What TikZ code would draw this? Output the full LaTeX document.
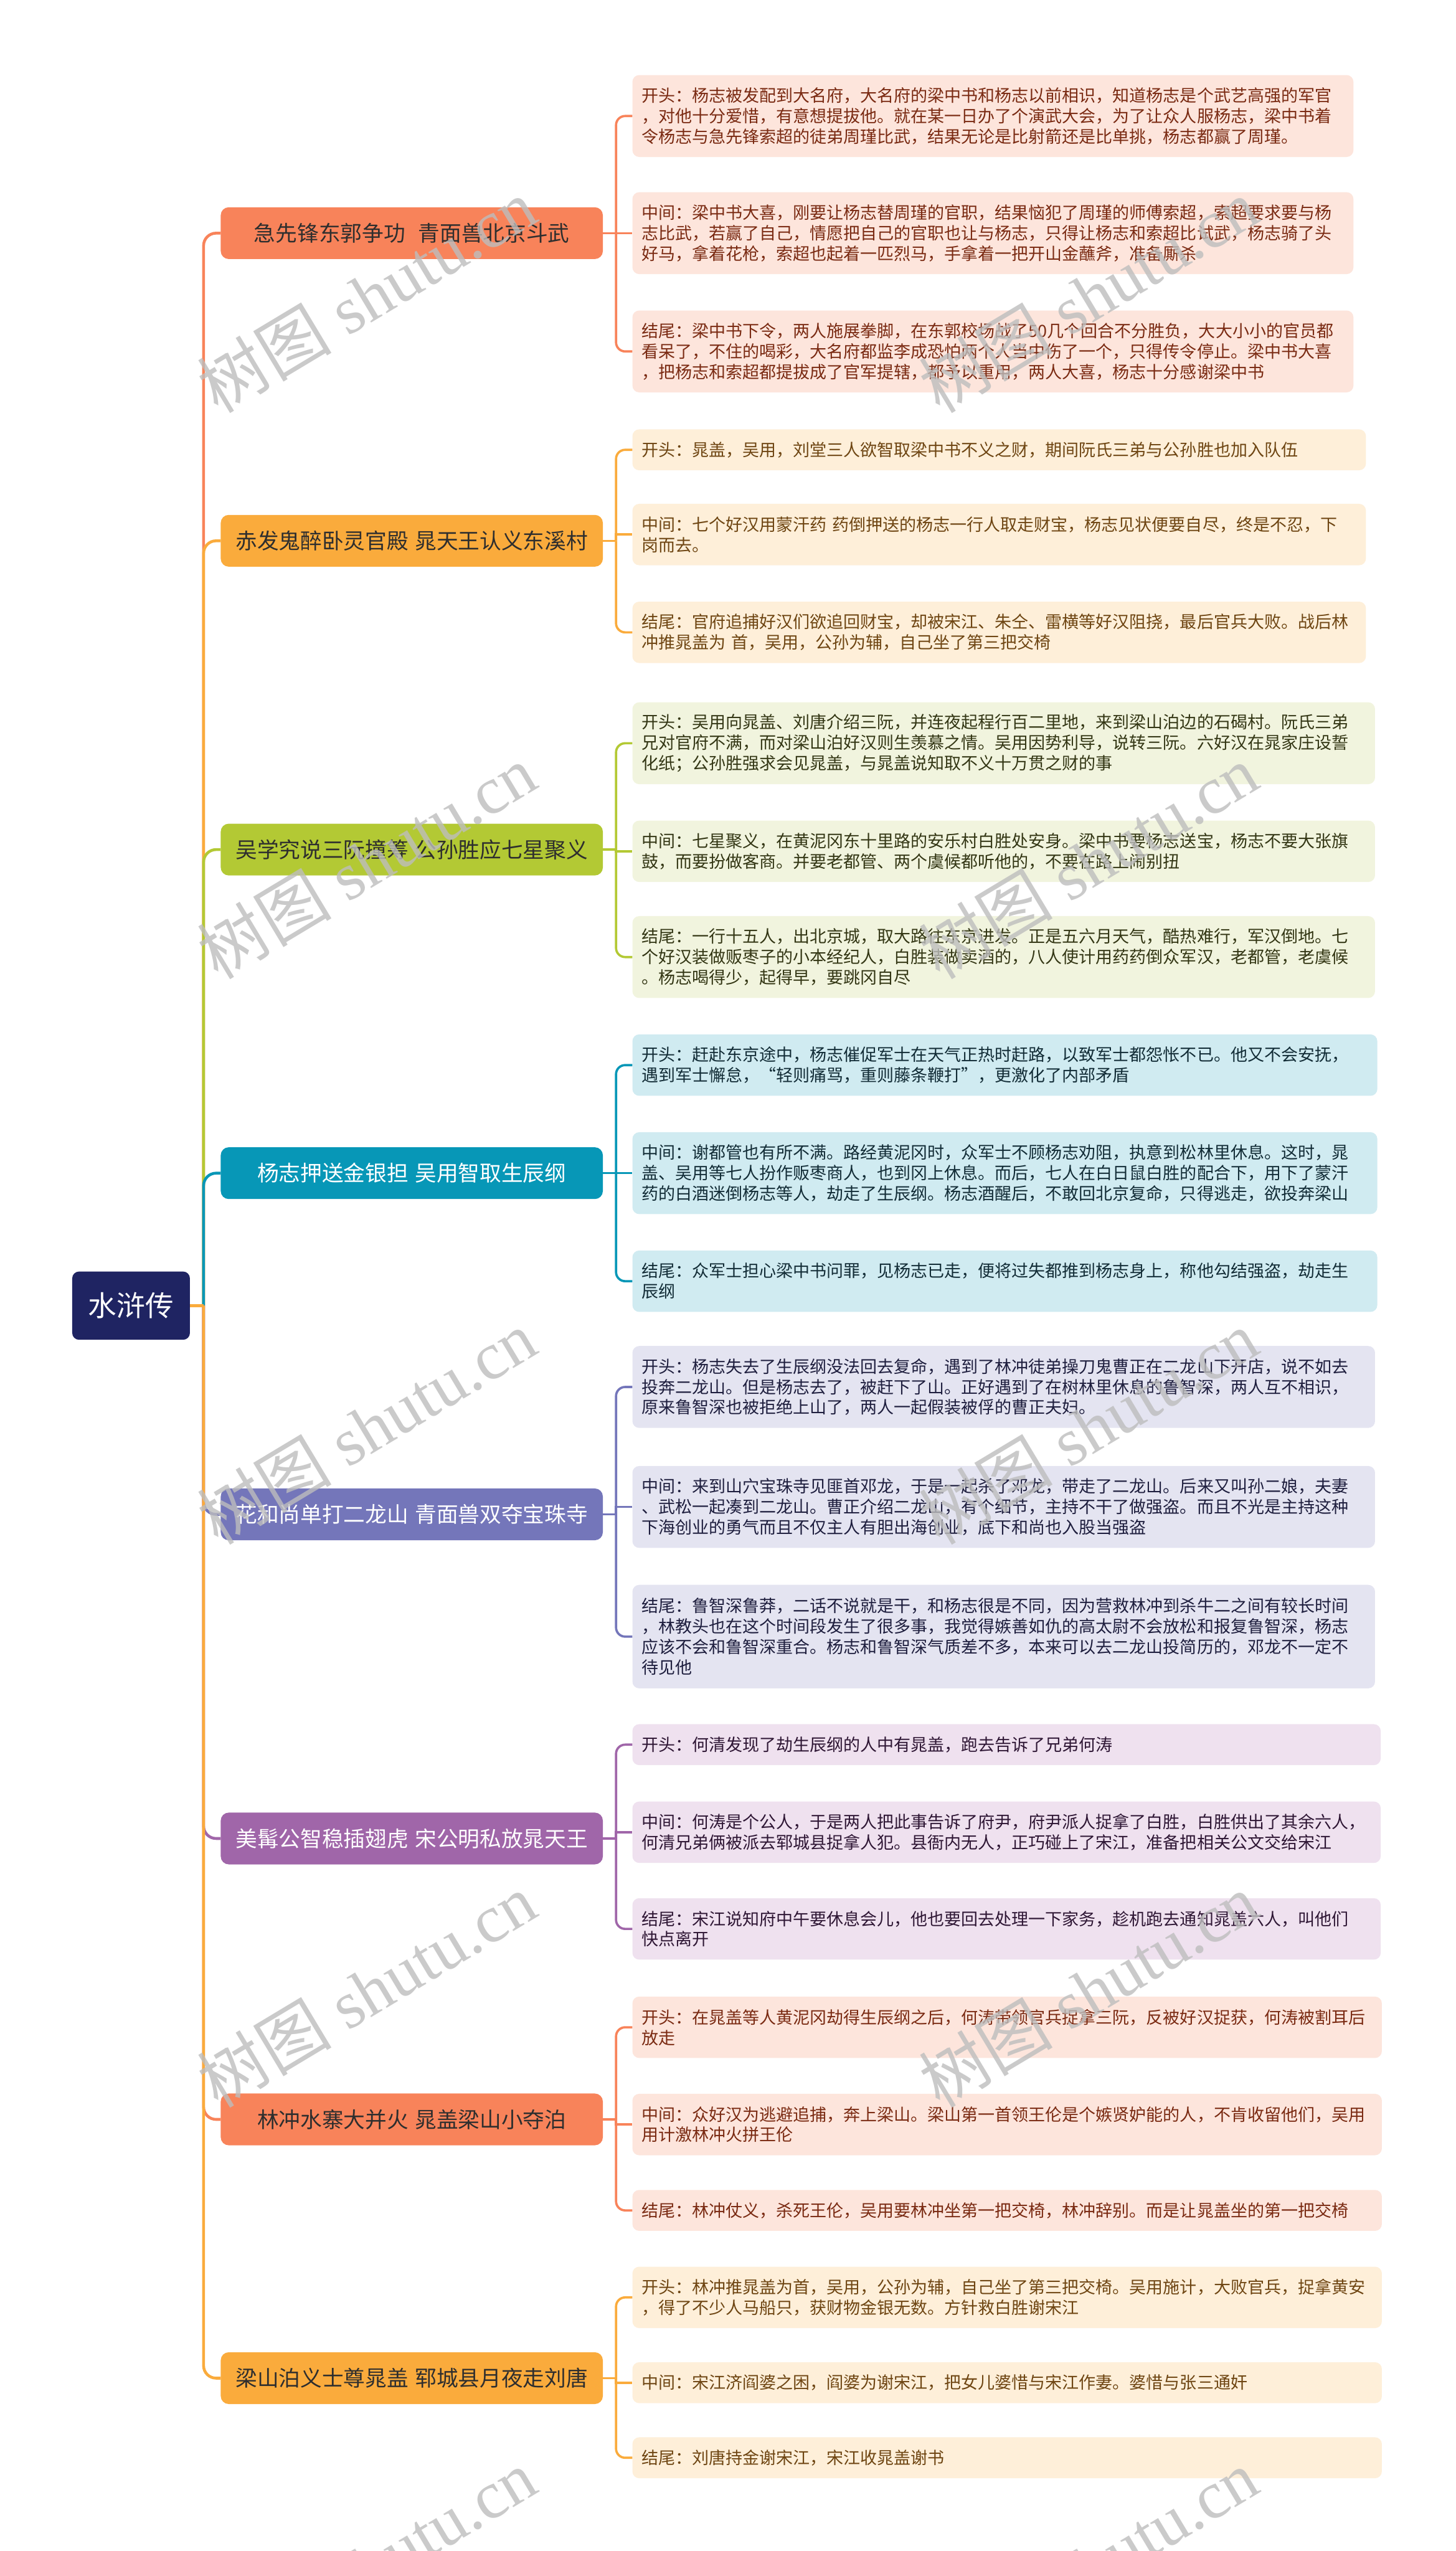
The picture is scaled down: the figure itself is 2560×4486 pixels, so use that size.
\documentclass[tikz,border=0pt]{standalone}
\usepackage{fontspec}
\setmainfont{Noto Sans CJK SC}
\newfontfamily\wmlatin{Liberation Serif}
\definecolor{cCoral}{HTML}{F8835A}
\definecolor{cCoralL}{HTML}{FDE5DC}
\definecolor{cCoralT}{HTML}{7A2A12}
\definecolor{cOrange}{HTML}{FAAB3C}
\definecolor{cOrangeL}{HTML}{FEEFD9}
\definecolor{cOrangeT}{HTML}{6E4512}
\definecolor{cGreen}{HTML}{B3C934}
\definecolor{cGreenL}{HTML}{F1F4DE}
\definecolor{cGreenT}{HTML}{333614}
\definecolor{cTeal}{HTML}{0797B7}
\definecolor{cTealL}{HTML}{D0EBF1}
\definecolor{cTealT}{HTML}{122C36}
\definecolor{cBlue}{HTML}{7476BA}
\definecolor{cBlueL}{HTML}{E4E4F1}
\definecolor{cBlueT}{HTML}{1E1E3E}
\definecolor{cPurple}{HTML}{A066A9}
\definecolor{cPurpleL}{HTML}{EFE1EF}
\definecolor{cPurpleT}{HTML}{2E1634}
\definecolor{cRoot}{HTML}{1F2462}
\definecolor{cDark}{HTML}{2E2E2E}
\definecolor{cWM}{HTML}{BDBDBD}
\begin{document}
\begin{tikzpicture}[x=1pt,y=-1pt,
  rootbox/.style={rectangle, rounded corners=12pt, fill=cRoot, text=white, minimum width=207pt, minimum height=120pt, inner sep=0pt, font=\fontsize{50}{60}\selectfont},
  branchbox/.style={rectangle, rounded corners=14pt, minimum width=672pt, minimum height=91pt, inner sep=0pt, anchor=west, font=\fontsize{38}{46}\selectfont},
  leafbox/.style={rectangle, rounded corners=12pt, anchor=west, inner xsep=16pt, inner ysep=0pt, align=left, font=\fontsize{29.6}{36}\selectfont},
  one/.style={minimum height=72pt}, two/.style={minimum height=108pt}, three/.style={minimum height=144pt}, four/.style={minimum height=182pt},
  lfA/.style={leafbox, fill=cCoralL, text=cCoralT, text width=1236pt},
  lfB/.style={leafbox, fill=cOrangeL, text=cOrangeT, text width=1258pt},
  lfC/.style={leafbox, fill=cGreenL, text=cGreenT, text width=1274pt},
  lfD/.style={leafbox, fill=cTealL, text=cTealT, text width=1278pt},
  lfE/.style={leafbox, fill=cBlueL, text=cBlueT, text width=1274pt},
  lfF/.style={leafbox, fill=cPurpleL, text=cPurpleT, text width=1284pt},
  lfG/.style={leafbox, fill=cCoralL, text=cCoralT, text width=1286pt},
  lfH/.style={leafbox, fill=cOrangeL, text=cOrangeT, text width=1286pt},
  trunk/.style={line width=5pt, rounded corners=22pt},
  twig/.style={line width=4pt},
  wm/.style={rotate=31, text=cWM, text opacity=0.8, font=\fontsize{118}{130}\selectfont}
]
\fill[white] (0,0) rectangle (2560,4486);
\useasboundingbox (0,0) rectangle (2560,4486);

% root
\node[rootbox] (root) at (230.5,2296) {水浒传};
\coordinate (rj) at (358,2296);

% branches
\node[branchbox, fill=cCoral, text=cDark] (b1) at (388,410) {急先锋东郭争功\hspace{0.6em}青面兽北京斗武};
\node[branchbox, fill=cOrange, text=cDark] (b2) at (388,951) {赤发鬼醉卧灵官殿\hspace{0.3em}晁天王认义东溪村};
\node[branchbox, fill=cGreen, text=cDark] (b3) at (388,1494) {吴学究说三阮撞筹\hspace{0.3em}公孙胜应七星聚义};
\node[branchbox, fill=cTeal, text=white] (b4) at (388,2063) {杨志押送金银担\hspace{0.3em}吴用智取生辰纲};
\node[branchbox, fill=cBlue, text=white] (b5) at (388,2663) {花和尚单打二龙山\hspace{0.3em}青面兽双夺宝珠寺};
\node[branchbox, fill=cPurple, text=white] (b6) at (388,3233) {美髯公智稳插翅虎\hspace{0.3em}宋公明私放晁天王};
\node[branchbox, fill=cCoral, text=cDark] (b7) at (388,3727) {林冲水寨大并火\hspace{0.3em}晁盖梁山小夺泊};
\node[branchbox, fill=cOrange, text=cDark] (b8) at (388,4182) {梁山泊义士尊晁盖\hspace{0.3em}郓城县月夜走刘唐};

% leaves branch 1
\node[lfA, three] (l1-a) at (1112,204) {开头：杨志被发配到大名府，大名府的梁中书和杨志以前相识，知道杨志是个武艺高强的军官\\，对他十分爱惜，有意想提拔他。就在某一日办了个演武大会，为了让众人服杨志，梁中书着\\令杨志与急先锋索超的徒弟周瑾比武，结果无论是比射箭还是比单挑，杨志都赢了周瑾。};
\node[lfA, three] (l1-b) at (1112,410) {中间：梁中书大喜，刚要让杨志替周瑾的官职，结果恼犯了周瑾的师傅索超，索超要求要与杨\\志比武，若赢了自己，情愿把自己的官职也让与杨志，只得让杨志和索超比试武，杨志骑了头\\好马，拿着花枪，索超也起着一匹烈马，手拿着一把开山金蘸斧，准备厮杀};
\node[lfA, three] (l1-c) at (1112,618) {结尾：梁中书下令，两人施展拳脚，在东郭校场战了50几个回合不分胜负，大大小小的官员都\\看呆了，不住的喝彩，大名府都监李成恐怕两个人当中伤了一个，只得传令停止。梁中书大喜\\，把杨志和索超都提拔成了官军提辖，都予以重用，两人大喜，杨志十分感谢梁中书};

% leaves branch 2
\node[lfB, one] (l2-a) at (1112,791) {开头：晁盖，吴用，刘堂三人欲智取梁中书不义之财，期间阮氏三弟与公孙胜也加入队伍};
\node[lfB, two] (l2-b) at (1112,940) {中间：七个好汉用蒙汗药 药倒押送的杨志一行人取走财宝，杨志见状便要自尽，终是不忍，下\\岗而去。};
\node[lfB, two] (l2-c) at (1112,1112) {结尾：官府追捕好汉们欲追回财宝，却被宋江、朱仝、雷横等好汉阻挠，最后官兵大败。战后林\\冲推晁盖为 首，吴用，公孙为辅，自己坐了第三把交椅};

% leaves branch 3
\node[lfC, three] (l3-a) at (1112,1307) {开头：吴用向晁盖、刘唐介绍三阮，并连夜起程行百二里地，来到梁山泊边的石碣村。阮氏三弟\\兄对官府不满，而对梁山泊好汉则生羡慕之情。吴用因势利导，说转三阮。六好汉在晁家庄设誓\\化纸；公孙胜强求会见晁盖，与晁盖说知取不义十万贯之财的事};
\node[lfC, two] (l3-b) at (1112,1497) {中间：七星聚义，在黄泥冈东十里路的安乐村白胜处安身。梁中书要杨志送宝，杨志不要大张旗\\鼓，而要扮做客商。并要老都管、两个虞候都听他的，不要在路上闹别扭};
\node[lfC, three] (l3-c) at (1112,1683) {结尾：一行十五人，出北京城，取大路往东京进发。正是五六月天气，酷热难行，军汉倒地。七\\个好汉装做贩枣子的小本经纪人，白胜装做卖酒的，八人使计用药药倒众军汉，老都管，老虞候\\。杨志喝得少，起得早，要跳冈自尽};

% leaves branch 4
\node[lfD, two] (l4-a) at (1112,1873) {开头：赶赴东京途中，杨志催促军士在天气正热时赶路，以致军士都怨怅不已。他又不会安抚，\\遇到军士懈怠，“轻则痛骂，重则藤条鞭打”，更激化了内部矛盾};
\node[lfD, three] (l4-b) at (1112,2063) {中间：谢都管也有所不满。路经黄泥冈时，众军士不顾杨志劝阻，执意到松林里休息。这时，晁\\盖、吴用等七人扮作贩枣商人，也到冈上休息。而后，七人在白日鼠白胜的配合下，用下了蒙汗\\药的白酒迷倒杨志等人，劫走了生辰纲。杨志酒醒后，不敢回北京复命，只得逃走，欲投奔梁山};
\node[lfD, two] (l4-c) at (1112,2253) {结尾：众军士担心梁中书问罪，见杨志已走，便将过失都推到杨志身上，称他勾结强盗，劫走生\\辰纲};

% leaves branch 5
\node[lfE, three] (l5-a) at (1112,2439) {开头：杨志失去了生辰纲没法回去复命，遇到了林冲徒弟操刀鬼曹正在二龙山下开店，说不如去\\投奔二龙山。但是杨志去了，被赶下了山。正好遇到了在树林里休息的鲁智深，两人互不相识，\\原来鲁智深也被拒绝上山了，两人一起假装被俘的曹正夫妇。};
\node[lfE, three] (l5-b) at (1112,2650) {中间：来到山穴宝珠寺见匪首邓龙，于是一起杀了邓龙，带走了二龙山。后来又叫孙二娘，夫妻\\、武松一起凑到二龙山。曹正介绍二龙山，有个细节，主持不干了做强盗。而且不光是主持这种\\下海创业的勇气而且不仅主人有胆出海创业，底下和尚也入股当强盗};
\node[lfE, four] (l5-c) at (1112,2878) {结尾：鲁智深鲁莽，二话不说就是干，和杨志很是不同，因为营救林冲到杀牛二之间有较长时间\\，林教头也在这个时间段发生了很多事，我觉得嫉善如仇的高太尉不会放松和报复鲁智深，杨志\\应该不会和鲁智深重合。杨志和鲁智深气质差不多，本来可以去二龙山投简历的，邓龙不一定不\\待见他};

% leaves branch 6
\node[lfF, one] (l6-a) at (1112,3068) {开头：何清发现了劫生辰纲的人中有晁盖，跑去告诉了兄弟何涛};
\node[lfF, two] (l6-b) at (1112,3222) {中间：何涛是个公人，于是两人把此事告诉了府尹，府尹派人捉拿了白胜，白胜供出了其余六人，\\何清兄弟俩被派去郓城县捉拿人犯。县衙内无人，正巧碰上了宋江，准备把相关公文交给宋江};
\node[lfF, two] (l6-c) at (1112,3392) {结尾：宋江说知府中午要休息会儿，他也要回去处理一下家务，趁机跑去通知晁盖六人，叫他们\\快点离开};

% leaves branch 7
\node[lfG, two] (l7-a) at (1112,3565) {开头：在晁盖等人黄泥冈劫得生辰纲之后，何涛带领官兵捉拿三阮，反被好汉捉获，何涛被割耳后\\放走};
\node[lfG, two] (l7-b) at (1112,3736) {中间：众好汉为逃避追捕，奔上梁山。梁山第一首领王伦是个嫉贤妒能的人，不肯收留他们，吴用\\用计激林冲火拼王伦};
\node[lfG, one] (l7-c) at (1112,3887) {结尾：林冲仗义，杀死王伦，吴用要林冲坐第一把交椅，林冲辞别。而是让晁盖坐的第一把交椅};

% leaves branch 8
\node[lfH, two] (l8-a) at (1112,4040) {开头：林冲推晁盖为首，吴用，公孙为辅，自己坐了第三把交椅。吴用施计，大败官兵，捉拿黄安\\，得了不少人马船只，获财物金银无数。方针救白胜谢宋江};
\node[lfH, one] (l8-b) at (1112,4190) {中间：宋江济阎婆之困，阎婆为谢宋江，把女儿婆惜与宋江作妻。婆惜与张三通奸};
\node[lfH, one] (l8-c) at (1112,4322) {结尾：刘唐持金谢宋江，宋江收晁盖谢书};

% trunk connectors root -> branches
\foreach \i/\c in {1/cCoral,2/cOrange,3/cGreen,4/cTeal,5/cBlue,6/cPurple,7/cCoral,8/cOrange}{
  \draw[trunk, draw=\c] (rj) |- (b\i.west);
}
\draw[line width=5pt, draw=cOrange] (root.east) -- (rj);

% branch -> leaf connectors
\foreach \i/\c in {1/cCoral,2/cOrange,3/cGreen,4/cTeal,5/cBlue,6/cPurple,7/cCoral,8/cOrange}{
  \path (b\i.east) ++(23,0) coordinate (j\i);
  \draw[twig, draw=\c] (b\i.east) -- (j\i);
  \draw[twig, draw=\c, rounded corners=16pt] (j\i) |- (l\i-a.west);
  \draw[twig, draw=\c] (j\i) |- (l\i-b.west);
  \draw[twig, draw=\c, rounded corners=16pt] (j\i) |- (l\i-c.west);
}

% watermarks
\foreach \k/\yy in {1/520,2/1515,3/2510,4/3500,5/4513}{
  \node[wm] (wl\k) at (645,\yy) {树图\hspace{0.25em}{\wmlatin shutu.cn}};
  \node[wm] (wr\k) at (1914,\yy) {树图\hspace{0.25em}{\wmlatin shutu.cn}};
}
\end{tikzpicture}
\end{document}
